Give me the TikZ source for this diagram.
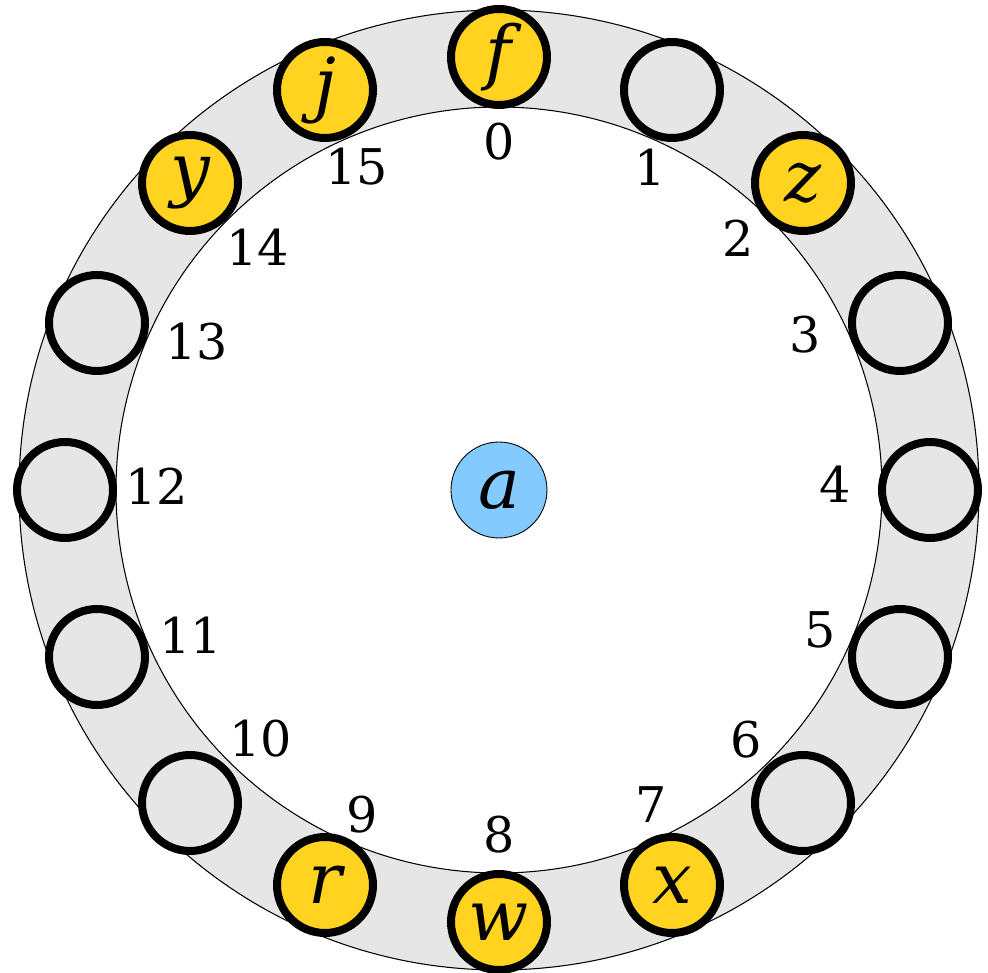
\documentclass[tikz,border=0pt]{standalone}
\usepackage{fontspec}
\setmainfont{DejaVu Serif}
\definecolor{ringgray}{HTML}{E6E6E6}
\definecolor{slotyellow}{HTML}{FFD320}
\definecolor{hubblue}{HTML}{83CAFF}
\tikzset{
  slot/.style={circle, draw=black, line width=0.16cm, fill=ringgray, minimum size=1.92cm, inner sep=0pt,
    font=\fontsize{40}{40}\selectfont\itshape},
  taken/.style={slot, fill=slotyellow},
  hub/.style={circle, draw=black, line width=0.5pt, fill=hubblue, minimum size=1.92cm, inner sep=0pt,
    font=\fontsize{40}{40}\selectfont\itshape},
  index/.style={font=\fontsize{28}{28}\selectfont}
}

\begin{document}
\begin{tikzpicture}[x=0.02cm, y=0.02cm]
    \useasboundingbox (-499,-483) rectangle (489,490);
    % Ring
    \fill[ringgray, even odd rule] (0,0) circle (480) (0,0) circle (383);
    \draw[line width=0.6pt] (0,0) circle (480) (0,0) circle (383);

    % Centre
    \node[hub] (a) at (0,0) {a};

    % Slots
    \foreach \k/\s/\t/\x/\y in {0/taken/f/0/433, 1/slot/{}/173/400, 2/taken/z/304/307,
        3/slot/{}/401/167, 4/slot/{}/431/0, 5/slot/{}/401/-167, 6/slot/{}/304/-313,
        7/taken/x/173/-395, 8/taken/w/0/-432, 9/taken/r/-174/-395, 10/slot/{}/-309/-313,
        11/slot/{}/-402/-167, 12/slot/{}/-434/0, 13/slot/{}/-402/167, 14/taken/y/-309/307,
        15/taken/j/-174/400} {
        \node[\s] (s\k) at (\x,\y) {\t};
    }

    % Indices
    \foreach \k/\x/\y in {0/0/348, 1/151/323, 2/239/252, 3/306/155, 4/336/6, 5/321/-140,
        6/247/-250, 7/152/-315, 8/0/-345, 9/-137/-325, 10/-238/-249, 11/-308/-145,
        12/-342/4, 13/-302/148, 14/-241/243, 15/-142/323} {
        \node[index] (n\k) at (\x,\y) {\k};
    }
\end{tikzpicture}
\end{document}
